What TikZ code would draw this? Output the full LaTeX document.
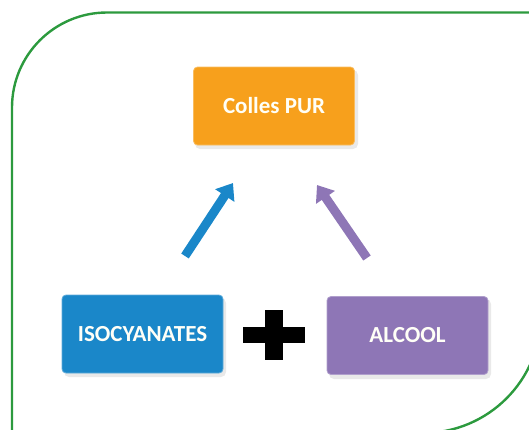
\documentclass[tikz,border=0pt]{standalone}
\usepackage{fontspec}
\setmainfont{Carlito}
\usetikzlibrary{arrows.meta}
\definecolor{bordergreen}{HTML}{2C9A3E}
\definecolor{cborange}{HTML}{F7A01C}
\definecolor{cbblue}{HTML}{1A87C9}
\definecolor{cbpurple}{HTML}{8E76B6}
\tikzset{
  box/.style={rounded corners=4pt, minimum width=161pt, minimum height=78pt,
    inner sep=0pt, font=\fontsize{23}{27}\selectfont\bfseries, text=white!97!yellow},
  boxshadow/.style={fill=black!25, opacity=0.35, rounded corners=5pt},
  bigarrow/.style={line width=9pt, -{Triangle[width=22pt,length=15pt]}},
}
\begin{document}
\begin{tikzpicture}[x=1pt,y=-1pt]
\useasboundingbox (0,0) rectangle (529,429);
\clip (0,0) rectangle (529,429);
% green frame
\draw[bordergreen, line width=2.4pt, rounded corners=95pt] (12,440) -- (12,12.5) -- (545,12.5);
\draw[bordergreen, line width=2.4pt, rounded corners=118pt] (541,200) -- (541,433) -- (300,433);
% shadows
\fill[boxshadow] (195,70) rectangle (358,149);
\fill[boxshadow] (64,298) rectangle (226,377);
\fill[boxshadow] (329,299) rectangle (491,379);
% boxes
\node[box, fill=cborange, draw=cborange!70!white, line width=0.8pt] (pur) at (274,106) {Colles PUR};
\node[box, fill=cbblue, draw=cbblue!70!white, line width=0.8pt] (iso) at (142.5,334) {ISOCYANATES};
\node[box, fill=cbpurple, draw=cbpurple!70!white, line width=0.8pt] (alc) at (407.5,335.5) {ALCOOL};
% plus sign
\fill[black] (265,310) rectangle (283,360);
\fill[black] (243,327) rectangle (305,343);
% arrows
\coordinate (b1) at (185,256);
\coordinate (b2) at (233,183);
\coordinate (p1) at (367,258);
\coordinate (p2) at (317,185);
\draw[bigarrow, cbblue] (b1) -- (b2);
\draw[bigarrow, cbpurple] (p1) -- (p2);
\end{tikzpicture}
\end{document}
